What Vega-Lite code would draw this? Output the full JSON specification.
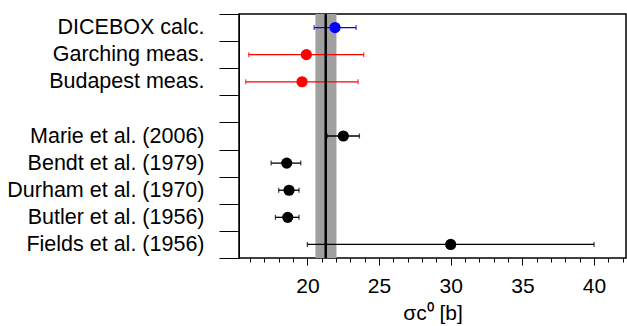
{
  "$schema": "https://vega.github.io/schema/vega-lite/v6.json",
  "width": 387,
  "height": 244,
  "autosize": {"type": "none"},
  "padding": {"left": 239, "top": 14, "right": 1, "bottom": 68},
  "config": {
    "view": {"stroke": "#000000", "strokeWidth": 1.5},
    "font": "Liberation Sans",
    "axis": {"grid": false, "labelOverlap": false, "domainColor": "#000000", "tickColor": "#000000", "labelColor": "#000000", "titleColor": "#000000", "labelFont": "Liberation Sans", "titleFont": "Liberation Sans"},
    "axisX": {"labelOverlap": false, "labelFlush": false, "labelBound": false}
  },
  "datasets": {
    "pts": [
      {"name": "DICEBOX calc.", "group": "calc", "value": 21.93, "lo": 20.47, "hi": 23.4},
      {"name": "Garching meas.", "group": "meas", "value": 19.93, "lo": 15.91, "hi": 23.93},
      {"name": "Budapest meas.", "group": "meas", "value": 19.63, "lo": 15.7, "hi": 23.54},
      {"name": "Marie et al. (2006)", "group": "lit", "value": 22.51, "lo": 21.37, "hi": 23.63},
      {"name": "Bendt et al. (1979)", "group": "lit", "value": 18.56, "lo": 17.47, "hi": 19.54},
      {"name": "Durham et al. (1970)", "group": "lit", "value": 18.72, "lo": 18.0, "hi": 19.42},
      {"name": "Butler et al. (1956)", "group": "lit", "value": 18.63, "lo": 17.77, "hi": 19.42},
      {"name": "Fields et al. (1956)", "group": "lit", "value": 30.0, "lo": 20.0, "hi": 40.0}
    ],
    "ref": [{"center": 21.28, "lo": 20.56, "hi": 22.03}]
  },
  "layer": [
    {
      "data": {"name": "ref"},
      "mark": {"type": "rect", "color": "#a0a0a0"},
      "encoding": {
        "x": {
          "field": "lo", "type": "quantitative", "title": "σc⁰ [b]",
          "scale": {"domain": [15.23, 42.23], "nice": false, "zero": false},
          "axis": {
            "values": [16,17,18,19,20,21,22,23,24,25,26,27,28,29,30,31,32,33,34,35,36,37,38,39,40,41,42],
            "tickCount": 100,
            "tickSize": {"condition": {"test": "datum.value % 5 === 0", "value": 7}, "value": 4},
            "labelExpr": "datum.value % 5 === 0 ? format(datum.value, 'd') : ''",
            "labelOverlap": false, "labelFlush": false,
            "labelFontSize": 21, "labelPadding": 10,
            "titleFontSize": 21, "titleFontWeight": "normal", "titlePadding": 6,
            "domain": false
          }
        },
        "x2": {"field": "hi"}
      }
    },
    {
      "data": {"name": "pts"},
      "mark": {"type": "rule", "strokeWidth": 1.3},
      "encoding": {
        "x": {"field": "lo", "type": "quantitative", "title": "σc⁰ [b]", "scale": {"domain": [15.23, 42.23], "nice": false, "zero": false}},
        "x2": {"field": "hi"},
        "y": {
          "field": "name", "type": "nominal", "title": null,
          "scale": {"type": "band", "paddingInner": 0, "paddingOuter": 0,
            "domain": ["DICEBOX calc.", "Garching meas.", "Budapest meas.", " ", "Marie et al. (2006)", "Bendt et al. (1979)", "Durham et al. (1970)", "Butler et al. (1956)", "Fields et al. (1956)"]},
          "axis": {"tickBand": "extent", "tickSize": 20, "labelFontSize": 21.5, "labelPadding": 15, "domain": true, "labelLimit": 300}
        },
        "color": {"field": "group", "type": "nominal", "legend": null, "scale": {"domain": ["calc", "meas", "lit"], "range": ["#0000ff", "#ff0000", "#000000"]}}
      }
    },
    {
      "data": {"name": "pts"},
      "mark": {"type": "tick", "size": 5, "thickness": 1.3},
      "encoding": {
        "x": {"field": "lo", "type": "quantitative", "title": "σc⁰ [b]", "scale": {"domain": [15.23, 42.23], "nice": false, "zero": false}},
        "y": {"field": "name", "type": "nominal", "title": null},
        "color": {"field": "group", "type": "nominal", "legend": null}
      }
    },
    {
      "data": {"name": "pts"},
      "mark": {"type": "tick", "size": 5, "thickness": 1.3},
      "encoding": {
        "x": {"field": "hi", "type": "quantitative", "title": "σc⁰ [b]", "scale": {"domain": [15.23, 42.23], "nice": false, "zero": false}},
        "y": {"field": "name", "type": "nominal", "title": null},
        "color": {"field": "group", "type": "nominal", "legend": null}
      }
    },
    {
      "data": {"name": "ref"},
      "mark": {"type": "rule", "color": "#000000", "strokeWidth": 2.5},
      "encoding": {
        "x": {"field": "center", "type": "quantitative", "title": "σc⁰ [b]", "scale": {"domain": [15.23, 42.23], "nice": false, "zero": false}}
      }
    },
    {
      "data": {"name": "pts"},
      "mark": {"type": "point", "filled": true, "opacity": 1, "size": 125},
      "encoding": {
        "x": {"field": "value", "type": "quantitative", "title": "σc⁰ [b]", "scale": {"domain": [15.23, 42.23], "nice": false, "zero": false}},
        "y": {"field": "name", "type": "nominal", "title": null},
        "color": {"field": "group", "type": "nominal", "legend": null}
      }
    }
  ]
}
